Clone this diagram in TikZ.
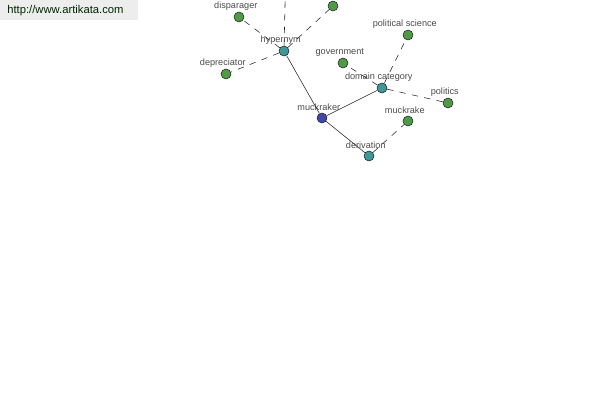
\documentclass[tikz,border=0pt]{standalone}
\usepackage{fontspec}
\setmainfont{Liberation Sans}
\usetikzlibrary{positioning}

\definecolor{leafgreen}{HTML}{4E9A45}
\definecolor{relteal}{HTML}{3E9898}
\definecolor{headblue}{HTML}{4048A8}
\definecolor{labelgray}{HTML}{4A4A4A}

\tikzset{
    word/.style={draw=black!85, circle, minimum size=0.25cm, inner sep=0pt, fill=leafgreen},
    relation/.style={word, fill=relteal},
    headword/.style={word, fill=headblue},
    every label/.style={font=\fontsize{6.5}{7}\selectfont, text=labelgray, inner sep=0.5pt, xshift=-0.08cm},
    link/.style={draw=black!85, line width=0.4pt},
    weak/.style={link, dash pattern=on 4.5pt off 4.5pt}
}

\begin{document}
\begin{tikzpicture}[x=0.025cm, y=-0.025cm, label distance=0.5pt]
    \useasboundingbox (0,0) rectangle (600,400);
    \clip (0,0) rectangle (600,400);

    % site banner
    \fill[black!7] (0,0) rectangle (138,20);
    \node[anchor=west, font=\fontsize{8}{9}\selectfont, text=black!75!green!60!black, inner sep=0pt] (site) at (7,11) {http://www.artikata.com};

    % nodes
    \node[headword, label=above:muckraker] (muckraker) at (322,118) {};
    \node[relation, label=above:hypernym] (hypernym) at (284,51) {};
    \node[relation, label=above:domain category] (domain) at (382,88) {};
    \node[relation, label=above:derivation] (derivation) at (369,156) {};

    \node[word, label=above:disparager] (disparager) at (239,17) {};
    \node[word, label=above:depreciator] (depreciator) at (226,74) {};
    \node[word] (upright) at (333,6) {};
    \coordinate (upper) at (286,-40);

    \node[word, label=above:government] (government) at (343,63) {};
    \node[word, label=above:political science] (polsci) at (408,35) {};
    \node[word, label=above:politics] (politics) at (448,103) {};
    \node[word, label=above:muckrake] (muckrake) at (408,121) {};

    % links
    \draw[link] (muckraker) -- (hypernym);
    \draw[link] (muckraker) -- (domain);
    \draw[link] (muckraker) -- (derivation);

    \draw[weak] (hypernym) -- (disparager);
    \draw[weak] (hypernym) -- (depreciator);
    \draw[weak] (hypernym) -- (upright);
    \draw[weak] (hypernym) -- (upper);

    \draw[weak] (domain) -- (government);
    \draw[weak] (domain) -- (polsci);
    \draw[weak] (domain) -- (politics);
    \draw[weak] (derivation) -- (muckrake);
\end{tikzpicture}
\end{document}
